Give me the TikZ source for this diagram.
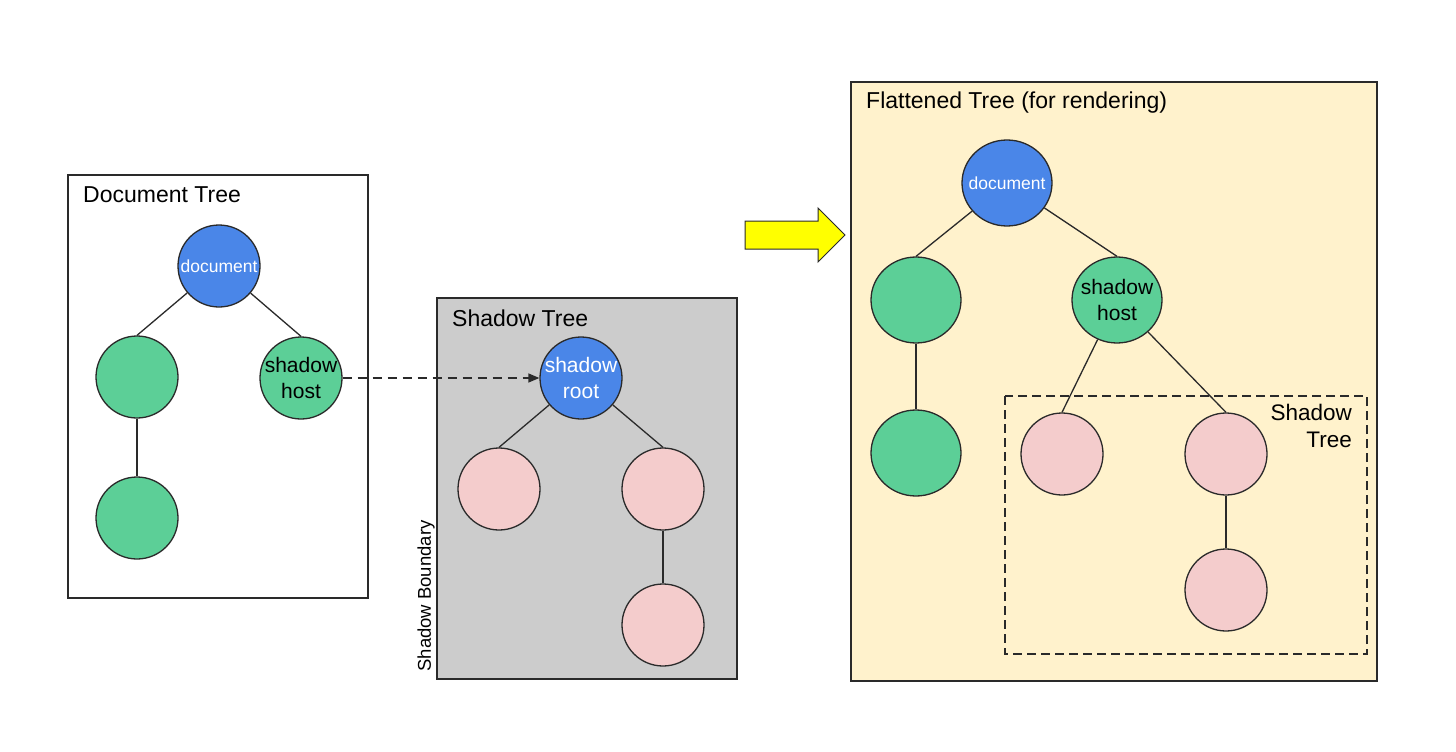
\documentclass[tikz,border=0pt]{standalone}
\usepackage{fontspec}
\setmainfont{Liberation Sans}
\usetikzlibrary{arrows.meta,shapes.geometric}
\definecolor{nodeblue}{HTML}{4A86E8}
\definecolor{nodegreen}{HTML}{5CCF97}
\definecolor{nodepink}{HTML}{F4CCCC}
\definecolor{shadowgray}{HTML}{CCCCCC}
\definecolor{flatfill}{HTML}{FFF2CC}
\definecolor{edgecol}{HTML}{2A2A2A}
\definecolor{arrowyellow}{HTML}{FFFF00}

\begin{document}
\begin{tikzpicture}[x=1pt,y=-1pt,
  treebox/.style={draw=edgecol,line width=1.4pt},
  title/.style={anchor=base west,inner sep=0,font=\fontsize{23}{27}\selectfont},
  tnode/.style={circle,draw=edgecol,line width=1.3pt,minimum size=82pt,inner sep=0},
  bignode/.style={ellipse,draw=edgecol,line width=1.3pt,minimum width=90pt,minimum height=86pt,inner sep=0},
  docnode/.style={fill=nodeblue,label={[whitelbl]center:document}},
  greennode/.style={fill=nodegreen},
  pinknode/.style={fill=nodepink},
  whitelbl/.style={text=white,inner sep=0,font=\fontsize{17.5}{20}\selectfont},
  twolbl/.style={align=center,inner sep=0,font=\fontsize{21}{26}\selectfont},
  link/.style={draw=edgecol,line width=1.3pt},
  dasharrow/.style={draw=edgecol,line width=1.3pt,dash pattern=on 9pt off 6pt,
    -{Triangle[length=11pt,width=9pt]}},
  dashbox/.style={draw=edgecol,line width=1.5pt,dash pattern=on 9pt off 5pt}
]
\useasboundingbox (0,0) rectangle (1456,752);

% ---- Document tree ----
\draw[treebox,fill=white] (68,175) rectangle (368,598);
\node[title] at (83,202) {Document Tree};
\node[tnode,docnode] (dt-doc) at (219,266) {};
\node[tnode,greennode] (dt-left) at (137,377) {};
\node[tnode,greennode,label={[twolbl]center:shadow\\host}] (dt-host) at (301,378) {};
\node[tnode,greennode] (dt-leaf) at (137,518) {};
\draw[link] (dt-doc) -- (dt-left.north);
\draw[link] (dt-doc) -- (dt-host.north);
\draw[link] (dt-left) -- (dt-leaf);

% ---- Shadow tree ----
\draw[treebox,fill=shadowgray] (437,298) rectangle (737,679);
\node[title] at (452,326) {Shadow Tree};
\node[rotate=90,inner sep=0,font=\fontsize{18.5}{21}\selectfont] (boundary) at (426,596) {Shadow Boundary};
\node[tnode,fill=nodeblue,label={[twolbl,text=white]center:shadow\\root}] (st-root) at (581,378) {};
\node[tnode,pinknode] (st-left) at (499,489) {};
\node[tnode,pinknode] (st-right) at (663,489) {};
\node[tnode,pinknode] (st-leaf) at (663,625) {};
\draw[link] (st-root) -- (st-left.north);
\draw[link] (st-root) -- (st-right.north);
\draw[link] (st-right) -- (st-leaf);

% host -> root
\draw[dasharrow] (dt-host.east) -- (st-root.west);

% ---- transformation arrow ----
\draw[draw=edgecol,line width=1pt,fill=arrowyellow]
  (745,221) -- (818,221) -- (818,208) -- (845,235) -- (818,262) -- (818,249) -- (745,249) -- cycle;

% ---- Flattened tree ----
\draw[treebox,fill=flatfill] (851,82) rectangle (1377,681);
\node[title] at (866,108) {Flattened Tree (for rendering)};
\draw[dashbox] (1005,396) rectangle (1367,654);
\node[anchor=north east,align=right,inner sep=0,font=\fontsize{22.5}{27}\selectfont] (ft-label) at (1352,404) {Shadow\\Tree};
\node[bignode,docnode] (ft-doc) at (1007,183) {};
\node[bignode,greennode] (ft-left) at (916,300) {};
\node[bignode,greennode,label={[twolbl]center:shadow\\host}] (ft-host) at (1117,300) {};
\node[bignode,greennode] (ft-leaf) at (916,453) {};
\node[tnode,pinknode] (ft-sleft) at (1062,454) {};
\node[tnode,pinknode] (ft-sright) at (1226,454) {};
\node[tnode,pinknode] (ft-sleaf) at (1226,590) {};
\draw[link] (ft-doc) -- (ft-left.north);
\draw[link] (ft-doc) -- (ft-host.north);
\draw[link] (ft-left) -- (ft-leaf);
\draw[link] (ft-host) -- (ft-sleft.north);
\draw[link] (ft-host) -- (ft-sright.north);
\draw[link] (ft-sright) -- (ft-sleaf);
\end{tikzpicture}
\end{document}
